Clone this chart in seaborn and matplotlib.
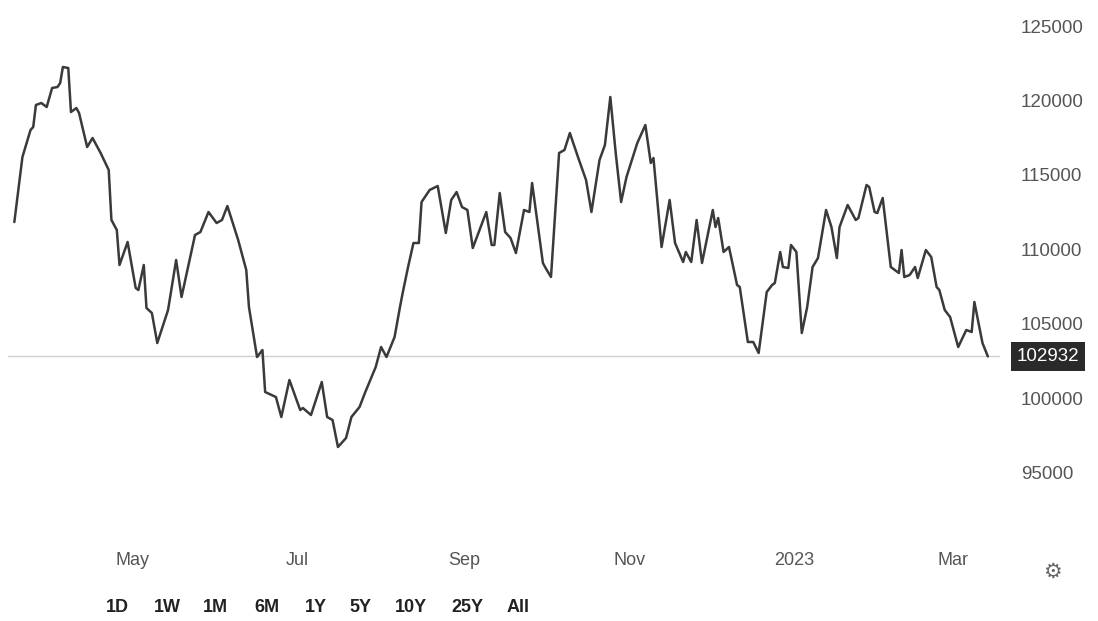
import pandas as pd
import numpy as np
import matplotlib
matplotlib.use("Agg")
import matplotlib.pyplot as plt
import matplotlib.dates as mdates
import seaborn as sns

# price history
dates = ["2022-03-18", "2022-03-21", "2022-03-24", "2022-03-25", "2022-03-26", "2022-03-28",
         "2022-03-30", "2022-04-01", "2022-04-03", "2022-04-04", "2022-04-05", "2022-04-07",
         "2022-04-08", "2022-04-10", "2022-04-11", "2022-04-14", "2022-04-16", "2022-04-19",
         "2022-04-22", "2022-04-23", "2022-04-25", "2022-04-26", "2022-04-29", "2022-05-02",
         "2022-05-03", "2022-05-05", "2022-05-06", "2022-05-08", "2022-05-10", "2022-05-14",
         "2022-05-17", "2022-05-19", "2022-05-24", "2022-05-26", "2022-05-29", "2022-06-01",
         "2022-06-03", "2022-06-05", "2022-06-09", "2022-06-12", "2022-06-13", "2022-06-16",
         "2022-06-18", "2022-06-19", "2022-06-23", "2022-06-25", "2022-06-28", "2022-07-02",
         "2022-07-03", "2022-07-06", "2022-07-10", "2022-07-12", "2022-07-14", "2022-07-16",
         "2022-07-19", "2022-07-21", "2022-07-24", "2022-07-26", "2022-07-30", "2022-08-01",
         "2022-08-03", "2022-08-06", "2022-08-08", "2022-08-09", "2022-08-11", "2022-08-13",
         "2022-08-15", "2022-08-16", "2022-08-19", "2022-08-22", "2022-08-25", "2022-08-27",
         "2022-08-29", "2022-08-31", "2022-09-02", "2022-09-04", "2022-09-09", "2022-09-11",
         "2022-09-12", "2022-09-14", "2022-09-16", "2022-09-18", "2022-09-20", "2022-09-23",
         "2022-09-25", "2022-09-26", "2022-09-30", "2022-10-01", "2022-10-03", "2022-10-06",
         "2022-10-08", "2022-10-10", "2022-10-13", "2022-10-16", "2022-10-18", "2022-10-21",
         "2022-10-23", "2022-10-25", "2022-10-27", "2022-10-29", "2022-10-31", "2022-11-04",
         "2022-11-07", "2022-11-09", "2022-11-10", "2022-11-13", "2022-11-16", "2022-11-18",
         "2022-11-21", "2022-11-22", "2022-11-24", "2022-11-26", "2022-11-28", "2022-12-02",
         "2022-12-03", "2022-12-04", "2022-12-06", "2022-12-08", "2022-12-11", "2022-12-12",
         "2022-12-15", "2022-12-17", "2022-12-19", "2022-12-22", "2022-12-24", "2022-12-25",
         "2022-12-27", "2022-12-28", "2022-12-30", "2022-12-31", "2023-01-02", "2023-01-04",
         "2023-01-06", "2023-01-08", "2023-01-10", "2023-01-13", "2023-01-15", "2023-01-17",
         "2023-01-18", "2023-01-21", "2023-01-24", "2023-01-25", "2023-01-28", "2023-01-29",
         "2023-01-31", "2023-02-01", "2023-02-03", "2023-02-06", "2023-02-09", "2023-02-10",
         "2023-02-11", "2023-02-13", "2023-02-15", "2023-02-16", "2023-02-19", "2023-02-21",
         "2023-02-23", "2023-02-24", "2023-02-26", "2023-02-28", "2023-03-03", "2023-03-06",
         "2023-03-08", "2023-03-09", "2023-03-12", "2023-03-14"]

prices = [111960, 116330, 118146, 118347, 119826, 119960,
          119691, 120968, 121035, 121304, 122379, 122312,
          119355, 119624, 119288, 117003, 117608, 116600,
          115458, 112098, 111426, 109074, 110619, 107528,
          107394, 109074, 106184, 105848, 103832, 106050,
          109410, 106923, 111090, 111291, 112635, 111896,
          112098, 113038, 110754, 108738, 106251, 102891,
          103362, 100539, 100203, 98859, 101346, 99330,
          99464, 98994, 101211, 98859, 98658, 96843,
          97448, 98859, 99531, 100472, 102219, 103563,
          102891, 104235, 106251, 107192, 108939, 110552,
          110552, 113307, 114114, 114383, 111224, 113442,
          113979, 112971, 112770, 110216, 112635, 110418,
          110418, 113912, 111291, 110888, 109880, 112770,
          112635, 114584, 109208, 108872, 108267, 116600,
          116802, 117944, 116331, 114786, 112635, 116130,
          117138, 120363, 116600, 113307, 114987, 117272,
          118482, 115928, 116264, 110283, 113442, 110552,
          109275, 109947, 109275, 112098, 109208, 112770,
          111627, 112232, 109947, 110283, 107730, 107595,
          103899, 103899, 103160, 107259, 107730, 107864,
          109947, 108939, 108872, 110418, 109947, 104504,
          106251, 108939, 109544, 112770, 111627, 109544,
          111627, 113106, 112098, 112232, 114450, 114315,
          112635, 112568, 113576, 108939, 108536, 110082,
          108267, 108402, 108939, 108200, 110082, 109611,
          107595, 107394, 106050, 105579, 103563, 104706,
          104571, 106587, 103832, 102932]

last_price = 102932
y_ticks = [95000, 100000, 105000, 110000, 115000, 120000, 125000]
month_ticks = ["2022-05-01", "2022-07-01", "2022-09-01", "2022-11-01", "2023-01-01", "2023-03-01"]
month_labels = ["May", "Jul", "Sep", "Nov", "2023", "Mar"]
ranges = ["1D", "1W", "1M", "6M", "1Y", "5Y", "10Y", "25Y", "All"]

df = pd.DataFrame({"date": pd.to_datetime(dates), "price": prices})

sns.set_style("white")
plt.rcParams["font.family"] = ["Liberation Sans", "DejaVu Sans"]

fig = plt.figure(figsize=(10.98, 6.21), dpi=100)
ax = fig.add_axes([8 / 1098, 91 / 621, 992 / 1098, 525 / 621])

sns.lineplot(data=df, x="date", y="price", ax=ax, color="#3a3a3a", linewidth=1.8)

ax.axhline(last_price, color="#d0d0d0", linewidth=1, zorder=0)

may1 = mdates.date2num(pd.Timestamp("2022-05-01"))
ax.set_xlim(may1 - 46.35, may1 + 321.5)
ax.set_ylim(91266, 126546)

for s in ax.spines.values():
    s.set_visible(False)
ax.set_xlabel("")
ax.set_ylabel("")
ax.set_yticks([])
ax.set_xticks(pd.to_datetime(month_ticks))
ax.set_xticklabels(month_labels)
ax.tick_params(axis="x", length=0, pad=16, labelsize=13, labelcolor="#555555")

# price scale on the right
for v in y_ticks:
    ax.text(1.021, v, str(v), transform=ax.get_yaxis_transform(), ha="left", va="center",
            fontsize=13.5, color="#555555")
ax.text(1.017, last_price, str(last_price), transform=ax.get_yaxis_transform(),
        ha="left", va="center", fontsize=13.5, color="white",
        bbox=dict(boxstyle="square,pad=0.3", fc="#2a2a2a", ec="none"))

# settings glyph and range buttons
fig.text(1052 / 1098, 1 - 572 / 621, "\u2699", ha="center", va="center", fontsize=15,
         color="#666666", family="DejaVu Sans")
range_x = [117, 167, 215, 267, 316, 360, 411, 467, 518]
for lab, xp in zip(ranges, range_x):
    fig.text(xp / 1098, 1 - 607 / 621, lab, ha="center", va="center", fontsize=13,
             fontweight="bold", color="#222222")

fig.savefig("out.png", dpi=100)
